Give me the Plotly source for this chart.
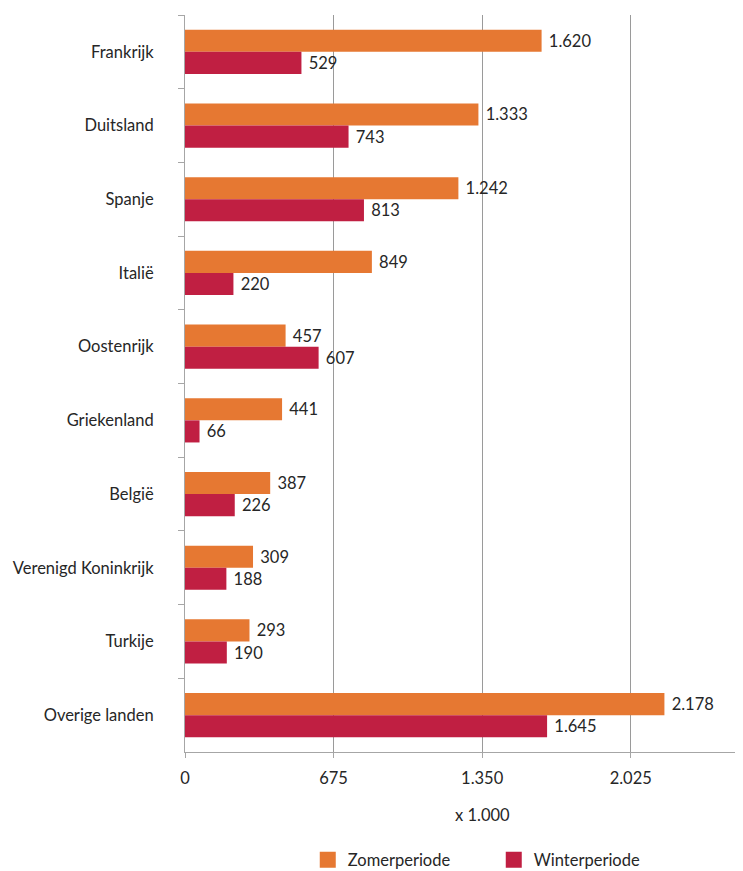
import plotly.graph_objects as go

categories = ["Frankrijk", "Duitsland", "Spanje", "Italië", "Oostenrijk",
              "Griekenland", "België", "Verenigd Koninkrijk", "Turkije", "Overige landen"]
zomer = [1620, 1333, 1242, 849, 457, 441, 387, 309, 293, 2178]
winter = [529, 743, 813, 220, 607, 66, 226, 188, 190, 1645]
tick_vals = [0, 675, 1350, 2025]
series_names = ["Zomerperiode", "Winterperiode"]
series_colors = ["#E67832", "#C01F42"]
unit_label = "x 1.000"

FONT = "Lato, 'Open Sans', sans-serif"
TXT = "#262626"
FS = 16.5

fig = go.Figure()
for vals, name, col in zip([zomer, winter], series_names, series_colors):
    fig.add_trace(go.Bar(
        y=categories, x=vals, orientation="h", name=name,
        marker=dict(color=col, line=dict(width=0)),
        texttemplate=" %{x:,}", textposition="outside",
        textfont=dict(size=FS, color=TXT, family=FONT), cliponaxis=False,
        showlegend=False,
    ))
# legend-only entries with larger square swatches
for name, col in zip(series_names, series_colors):
    fig.add_trace(go.Scatter(
        x=[None], y=[None], mode="markers", name=name,
        marker=dict(symbol="square", size=17, color=col),
        showlegend=True, hoverinfo="skip",
    ))

fig.update_layout(
    width=743, height=871,
    margin=dict(l=177, r=8, t=7, b=127, autoexpand=False),
    barmode="group", bargap=0.4, bargroupgap=0,
    separators=",.",
    plot_bgcolor="white", paper_bgcolor="white",
    font=dict(family=FONT, size=FS, color=TXT),
    showlegend=True,
    legend=dict(orientation="h", x=0.22, xanchor="left", y=-0.1465, yanchor="middle",
                font=dict(size=FS, color=TXT), entrywidth=141, entrywidthmode="pixels",
                traceorder="normal", itemsizing="trace"),
)
fig.update_xaxes(
    range=[0, 2535], tickvals=tick_vals, tickformat=",",
    showgrid=True, gridcolor="#9a9a9a", gridwidth=1,
    showline=True, linecolor="#a6a6a6", linewidth=1,
    ticks="outside", ticklen=5, tickcolor="#a6a6a6",
    ticklabelstandoff=6, zeroline=False,
    tickfont=dict(size=FS, color=TXT),
)
fig.update_yaxes(
    autorange="reversed", tickson="boundaries",
    showline=True, linecolor="#a6a6a6", linewidth=1,
    ticks="outside", ticklen=6, tickcolor="#a6a6a6",
    ticklabelstandoff=27, showgrid=False,
    tickfont=dict(size=FS, color=TXT),
)
fig.add_annotation(text=unit_label, x=1350, xref="x", y=-0.0855, yref="paper",
                   showarrow=False, font=dict(size=FS, color=TXT),
                   xanchor="center", yanchor="middle")

fig.write_html("out.html")
